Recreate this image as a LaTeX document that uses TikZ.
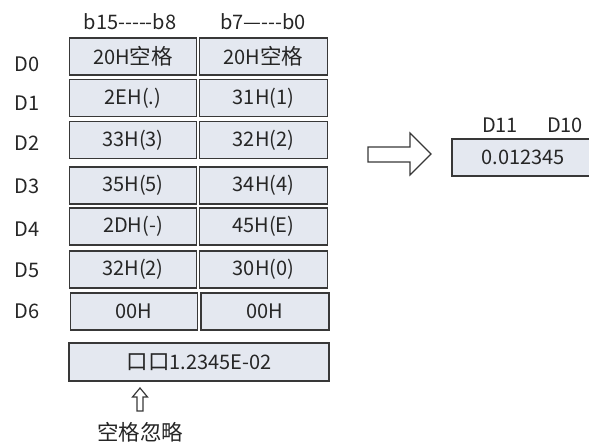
\documentclass[tikz,border=0pt]{standalone}
\usepackage{fontspec}
\setmainfont{Noto Sans CJK SC}
\newcommand{\hy}{\mbox{-}}
\newcommand{\zh}[1]{{\fontsize{21.5}{24}\selectfont #1}}
\begin{document}
\begin{tikzpicture}[x=1pt,y=-1pt,
  txt/.style={text=black!85, font=\fontsize{20}{23}\selectfont, inner sep=0pt},
  cell/.style={txt, draw=black!78, line width=1.4pt, fill={rgb,255:red,228;green,232;blue,240}, minimum height=37pt, anchor=center},
  lcell/.style={cell, minimum width=127pt},
  rcell/.style={cell, minimum width=128pt},
  hollow/.style={draw=black!78, line width=1.2pt, fill=white, line join=miter}]
\useasboundingbox (0,0) rectangle (589,445);
\clip (0,0) rectangle (589,445);
% headers
\node[txt] (hl) at (130,22) {b15\hy\hy\hy\hy\hy b8};
\node[txt] (hr) at (263,22) {b7—\hy\hy\hy b0};
% row labels
\node[txt] (l0) at (27,64) {D0};
\node[txt] (l1) at (27,103) {D1};
\node[txt] (l2) at (27,143) {D2};
\node[txt] (l3) at (27,186) {D3};
\node[txt] (l4) at (27,229) {D4};
\node[txt] (l5) at (27,270) {D5};
\node[txt] (l6) at (27,311) {D6};
% cells
\node[lcell] (a0) at (133,56.5) {20H\zh{空格}};
\node[rcell] (b0) at (263.5,56.5) {20H\zh{空格}};
\node[lcell] (a1) at (133,98) {2EH(.)};
\node[rcell] (b1) at (263.5,98) {31H(1)};
\node[lcell] (a2) at (133,140) {33H(3)};
\node[rcell] (b2) at (263.5,140) {32H(2)};
\node[lcell] (a3) at (133,185.5) {35H(5)};
\node[rcell] (b3) at (263.5,185.5) {34H(4)};
\node[lcell] (a4) at (133,226.5) {2DH(-)};
\node[rcell] (b4) at (263.5,226.5) {45H(E)};
\node[lcell] (a5) at (133,269.5) {32H(2)};
\node[rcell] (b5) at (263.5,269.5) {30H(0)};
\node[lcell] (a6) at (134,311.5) {00H};
\node[rcell] (b6) at (265,311.5) {00H};
% string box
\node[cell, minimum width=260pt, minimum height=38pt] (s) at (199,362) {\zh{口口}1.2345E\hy 02};
% up arrow
\draw[hollow] (137,411) -- (137,397) -- (132.5,397) -- (140,388) -- (147.5,397) -- (143,397) -- (143,411) -- cycle;
\node[txt] (ign) at (140,432) {\zh{空格忽略}};
% right arrow
\draw[hollow] (368,147) -- (410,147) -- (410,133) -- (431,154) -- (410,175) -- (410,162) -- (368,162) -- cycle;
% result
\node[txt] (d11) at (500,125) {D11};
\node[txt] (d10) at (565,125) {D10};
\node[cell, minimum width=150pt, minimum height=37pt] (r) at (527,157.5) {};
\node[txt] (rv) at (523,157.5) {0.012345};
\end{tikzpicture}
\end{document}
